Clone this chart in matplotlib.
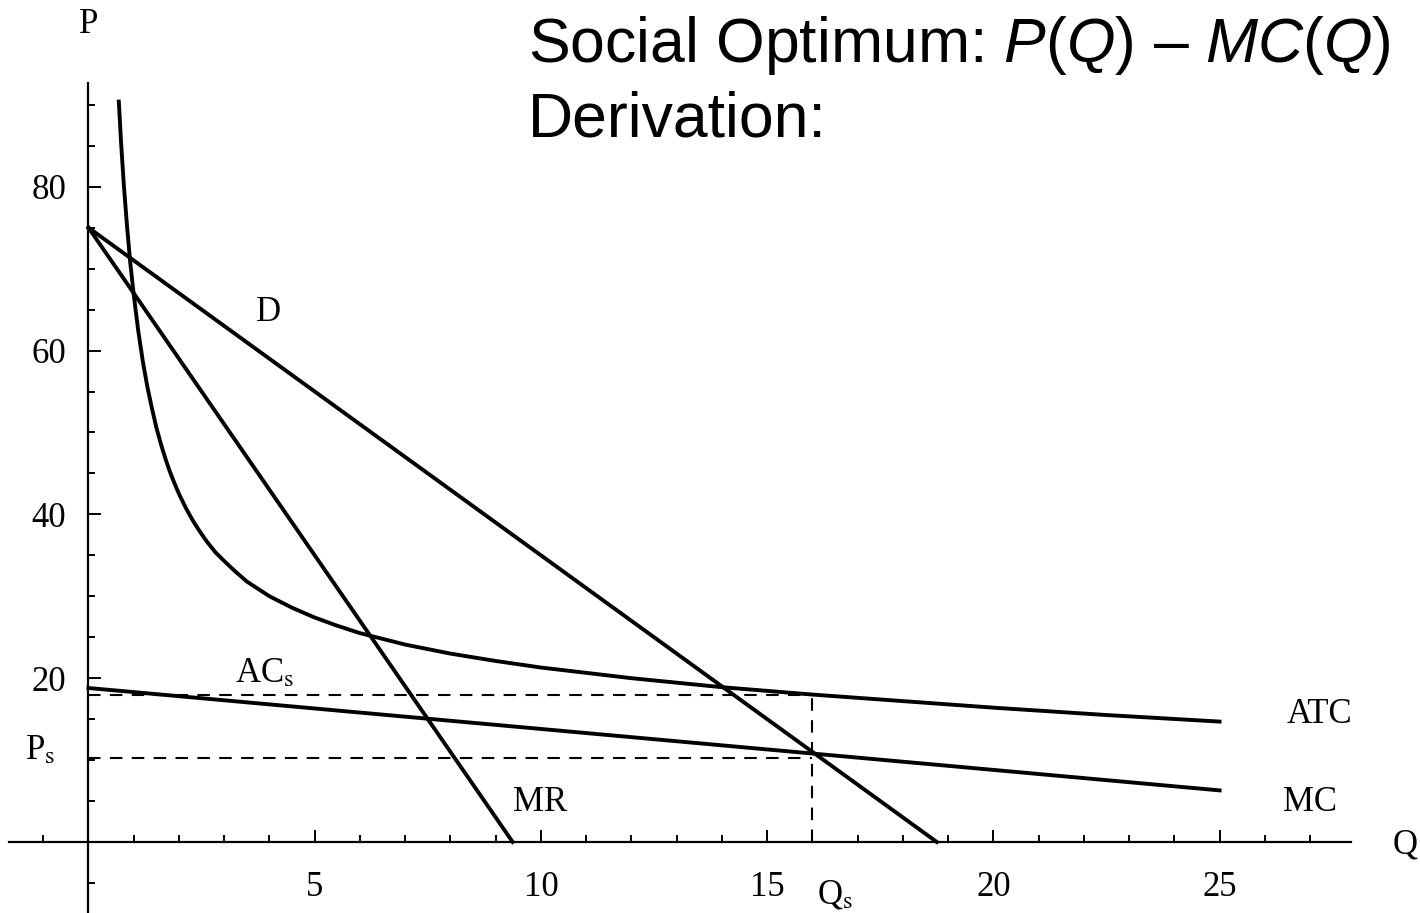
import numpy as np
import matplotlib
matplotlib.use("Agg")
import matplotlib.pyplot as plt

plt.rcParams["font.family"] = ["Liberation Serif", "DejaVu Serif"]
plt.rcParams["mathtext.fontset"] = "custom"
plt.rcParams["mathtext.rm"] = "Liberation Sans"
plt.rcParams["mathtext.it"] = "Liberation Sans:italic"

# demand and marginal revenue (straight lines, endpoints)
q_demand = [0, 18.75]
p_demand = [75, 0]
q_mr = [0, 9.375]
p_mr = [75, 0]

# marginal cost
q_mc = [0, 25]
p_mc = [18.8, 6.3]

# average total cost
q_atc = [0.67, 0.72, 0.78, 0.85, 0.92, 1.0, 1.1, 1.2, 1.3, 1.4, 1.5, 1.6, 1.7,
         1.8, 1.9, 2.0, 2.15, 2.3, 2.45, 2.6, 2.8, 3.0, 3.25, 3.5, 3.75, 4.0,
         4.5, 5.0, 5.5, 6.0, 7.0, 8.0, 9.0, 10.0, 12.0, 14.0, 16.0, 18.0,
         20.0, 22.5, 25.0]
p_atc = [90.4, 85.4, 80.3, 75.3, 70.9, 66.8, 62.4, 58.7, 55.6, 53.0, 50.6, 48.6, 46.8,
         45.2, 43.8, 42.5, 40.8, 39.3, 38.0, 36.8, 35.4, 34.3, 33.0, 31.8, 30.9, 30.0,
         28.6, 27.4, 26.4, 25.5, 24.1, 23.0, 22.1, 21.3, 20.0, 18.9, 18.0, 17.2,
         16.4, 15.5, 14.7]

# social optimum
q_s = 16.0
p_s = 10.3
ac_s = 17.9

fig = plt.figure(figsize=(14.2, 9.13), dpi=100)
ax = fig.add_axes([0, 0, 1, 1])
ax.set_xlim(-1.956, 29.43)
ax.set_ylim(-8.67, 102.8)
ax.patch.set_alpha(0)

for side in ["top", "right"]:
    ax.spines[side].set_visible(False)
ax.spines["left"].set_position(("data", 0))
ax.spines["bottom"].set_position(("data", 0))
ax.spines["left"].set_bounds(-8.7, 92.7)
ax.spines["bottom"].set_bounds(-1.75, 27.9)
ax.spines["left"].set_linewidth(1.6)
ax.spines["bottom"].set_linewidth(1.6)

ax.set_xticks([5, 10, 15, 20, 25])
ax.set_xticks([x for x in range(-1, 28) if x % 5 != 0], minor=True)
ax.set_yticks([20, 40, 60, 80])
ax.set_yticks([y for y in range(-5, 91, 5) if y % 20 != 0], minor=True)

ax.tick_params(which="both", direction="in", width=1.4, labelsize=25)
ax.tick_params(which="major", length=9)
ax.tick_params(which="minor", length=5)
ax.tick_params(axis="x", pad=21)
ax.tick_params(axis="y", pad=16)

lw = 2.8
ax.plot(q_demand, p_demand, color="black", lw=lw)
ax.plot(q_mr, p_mr, color="black", lw=lw)
ax.plot(q_mc, p_mc, color="black", lw=lw)
ax.plot(q_atc, p_atc, color="black", lw=lw, solid_joinstyle="round")

dash = (0, (6, 4.5))
ax.plot([0, q_s], [ac_s, ac_s], color="black", lw=1.5, ls=dash)
ax.plot([0, q_s], [p_s, p_s], color="black", lw=1.5, ls=dash)
ax.plot([q_s, q_s], [0, ac_s], color="black", lw=1.5, ls=dash)

fs = 25
ax.text(0, 99.8, "P", fontsize=fs, ha="center", va="center")
ax.text(29.1, -0.4, "Q", fontsize=fs, ha="center", va="center")
ax.text(3.97, 64.7, "D", fontsize=fs, ha="center", va="center")
ax.text(3.9, 20.6, r"AC$_{\mathrm{s}}$", fontsize=fs, ha="center", va="center", math_fontfamily="stix")
ax.text(27.2, 15.6, "ATC", fontsize=fs, ha="center", va="center")
ax.text(27.0, 4.8, "MC", fontsize=fs, ha="center", va="center")
ax.text(9.98, 4.8, "MR", fontsize=fs, ha="center", va="center")
ax.text(-1.07, 11.2, r"P$_{\mathrm{s}}$", fontsize=fs, ha="center", va="center", math_fontfamily="stix")
ax.text(16.5, -6.5, r"Q$_{\mathrm{s}}$", fontsize=fs, ha="center", va="center", math_fontfamily="stix")

fig.text(0.372, 0.932, r"Social Optimum: $P(Q)$ – $MC(Q)$", fontsize=45,
         family="Liberation Sans", ha="left", va="baseline", math_fontfamily="custom")
fig.text(0.372, 0.85, "Derivation:", fontsize=45, family="Liberation Sans",
         ha="left", va="baseline")

fig.savefig("out.png", dpi=100)
